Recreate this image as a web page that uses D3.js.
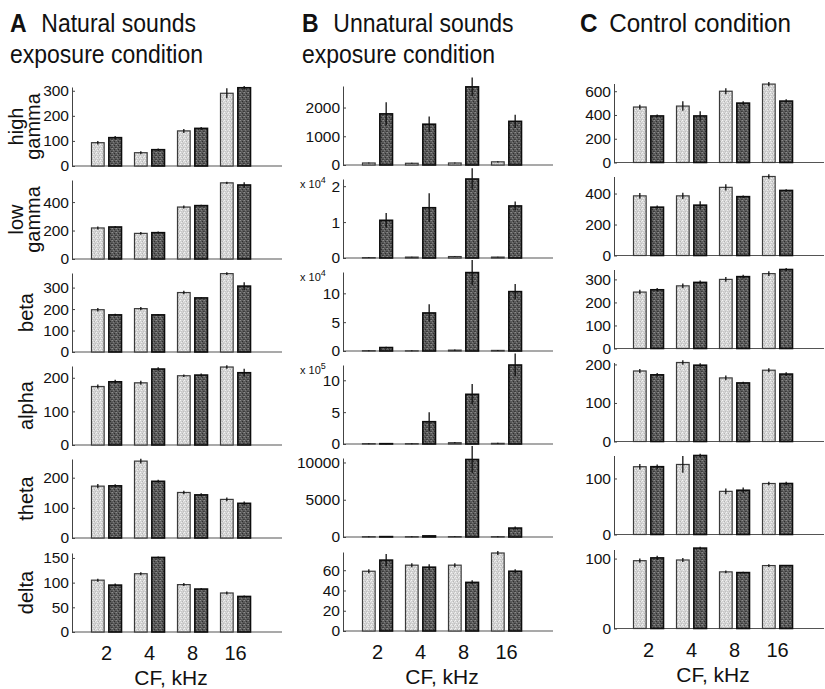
<!DOCTYPE html>
<html><head><meta charset="utf-8">
<script src="https://cdn.jsdelivr.net/npm/d3@7"></script>
<style>
body{margin:0;background:#fff}
svg{display:block}
text{font-family:"Liberation Sans",Arial,Helvetica,sans-serif;fill:#111}
</style></head><body>
<svg id="fig" width="825" height="689"></svg>
<script>
// Characteristic frequencies (kHz) and frequency bands
const frequencies = ["2", "4", "8", "16"];
const bandNames = ["high gamma", "low gamma", "beta", "alpha", "theta", "delta"];
const seriesKeys = ["light", "dark"];

// A: natural sounds exposure condition (rows = bands, columns = CF)
const natLight    = [[93, 53, 140, 290], [218, 180, 365, 535], [197, 202, 277, 365], [174, 185, 206, 232], [172, 255, 151, 128], [105, 118, 96, 79]];
const natDark     = [[113, 65, 150, 312], [225, 185, 375, 520], [173, 173, 252, 307], [188, 226, 208, 215], [173, 188, 143, 115], [95, 151, 87, 72]];
const natLightErr = [[7, 6, 8, 20], [10, 10, 10, 8], [8, 8, 8, 6], [6, 6, 4, 5], [7, 8, 6, 6], [3, 3, 3, 3]];
const natDarkErr  = [[7, 5, 6, 7], [6, 8, 6, 20], [5, 4, 4, 18], [6, 5, 5, 12], [5, 5, 5, 6], [3, 2, 2, 2]];
const natTop      = [315, 555, 368, 235, 262, 160];
const natTicks    = [[0, 100, 200, 300], [0, 200, 400], [0, 100, 200, 300], [0, 100, 200], [0, 100, 200], [0, 50, 100, 150]];

// B: unnatural sounds exposure condition
const unnLight    = [[70, 60, 70, 110], [100, 250, 400, 250], [500, 300, 1500, 1000], [5000, 5000, 20000, 10000], [40, 40, 50, 40], [59, 65, 65, 77]];
const unnDark     = [[1780, 1420, 2720, 1520], [10500, 14000, 22000, 14500], [6000, 66000, 136000, 103000], [5000, 350000, 780000, 1240000], [50, 150, 10400, 1200], [70, 63, 48, 59]];
const unnLightErr = [[20, 20, 20, 20], [100, 100, 100, 100], [1000, 800, 1000, 800], [8000, 8000, 10000, 10000], [60, 60, 60, 60], [2, 2, 2, 2]];
const unnDarkErr  = [[400, 270, 330, 230], [2000, 4000, 3000, 1200], [1500, 15000, 22000, 13000], [8000, 150000, 160000, 180000], [60, 60, 1800, 200], [6, 3, 2, 2]];
const unnTop      = [2750, 22000, 137000, 1240000, 10600, 78];
const unnTicks    = [[0, 1000, 2000], [0, 10000, 20000], [0, 50000, 100000], [0, 500000, 1000000], [0, 5000, 10000], [0, 20, 40, 60]];
const unnExponent = [0, 4, 4, 5, 0, 0];

// C: control condition
const ctlLight    = [[467, 475, 600, 660], [385, 385, 440, 510], [245, 272, 300, 325], [183, 205, 165, 185], [121, 125, 77, 91], [97, 98, 81, 90]];
const ctlDark     = [[392, 392, 500, 517], [312, 325, 380, 420], [255, 287, 312, 343], [173, 198, 152, 175], [121, 141, 79, 91], [101, 115, 80, 90]];
const ctlLightErr = [[20, 40, 25, 18], [18, 20, 20, 15], [10, 10, 10, 10], [5, 6, 6, 5], [5, 15, 5, 3], [3, 3, 2, 2]];
const ctlDarkErr  = [[12, 40, 15, 15], [10, 25, 8, 8], [8, 8, 8, 6], [5, 5, 3, 5], [4, 3, 5, 3], [3, 2, 1, 1]];
const ctlTop      = [665, 510, 343, 205, 141, 113];
const ctlTicks    = [[0, 200, 400, 600], [0, 200, 400], [0, 100, 200, 300], [0, 100, 200], [0, 100], [0, 100]];

const conditions = [
  {letter: "A", title: ["Natural sounds", "exposure condition"], light: natLight, dark: natDark, lightErr: natLightErr, darkErr: natDarkErr, top: natTop, ticks: natTicks, exponent: [0, 0, 0, 0, 0, 0]},
  {letter: "B", title: ["Unnatural sounds", "exposure condition"], light: unnLight, dark: unnDark, lightErr: unnLightErr, darkErr: unnDarkErr, top: unnTop, ticks: unnTicks, exponent: unnExponent},
  {letter: "C", title: ["Control condition"], light: ctlLight, dark: ctlDark, lightErr: ctlLightErr, darkErr: ctlDarkErr, top: ctlTop, ticks: ctlTicks, exponent: [0, 0, 0, 0, 0, 0]}
];

// Layout
const colX = [72, 343, 614];
const colShift = [1, 0, -2.5];
const titleX = [10, 302, 580];
const titleScale = [0.92, 0.92, 0.97];
const rowBase = [165, 258, 351, 444, 537, 631];
const panelH = 79;
const axisLen = 210;

const svg = d3.select("#fig");
const defs = svg.append("defs");

// Halftone-like stipple fills for the two bar shades
function stipple(id, base, dots) {
  const p = defs.append("pattern").attr("id", id)
    .attr("patternUnits", "userSpaceOnUse").attr("width", 4).attr("height", 4);
  p.append("rect").attr("width", 4).attr("height", 4).attr("fill", base);
  dots.forEach(([x, y, c]) => p.append("rect").attr("x", x).attr("y", y)
    .attr("width", 1).attr("height", 1).attr("fill", c));
}
stipple("stLight", "#d4d4d4", [[0, 0, "#f4f4f4"], [2, 1, "#b4b4b4"], [1, 2, "#eeeeee"], [3, 3, "#bfbfbf"], [3, 1, "#e9e9e9"], [1, 3, "#c8c8c8"]]);
stipple("stDark", "#5a5a5a", [[0, 0, "#8c8c8c"], [2, 1, "#2e2e2e"], [1, 2, "#7c7c7c"], [3, 3, "#383838"], [3, 0, "#727272"], [0, 3, "#444444"]]);

const fillFor = {light: "url(#stLight)", dark: "url(#stDark)"};
const strokeFor = {light: "#3a3a3a", dark: "#0d0d0d"};
const strokeW = {light: 1.2, dark: 1.6};

const x = d3.scaleBand().domain(frequencies).range([13, 185]);
const xSub = d3.scaleBand().domain(seriesKeys).range([-15, 15]).paddingInner(0.27);

conditions.forEach((cond, c) => {
  const x0 = colX[c];

  // Panel heading
  const head = svg.append("g").attr("transform", `translate(${titleX[c]},0) scale(${titleScale[c]},1)`);
  const t1 = head.append("text").attr("y", 32).attr("font-size", 25);
  t1.append("tspan").attr("font-weight", "bold").text(cond.letter);
  t1.append("tspan").attr("dx", c === 2 ? 12 : 16).text(cond.title[0]);
  if (cond.title[1]) head.append("text").attr("y", 63).attr("font-size", 25).text(cond.title[1]);

  bandNames.forEach((band, r) => {
    const base = rowBase[r] + colShift[c];
    const y = d3.scaleLinear().domain([0, cond.top[r]]).range([base, base - panelH]);
    const g = svg.append("g").attr("transform", `translate(${x0},0)`);

    // baseline
    g.append("line").attr("x1", 0).attr("x2", axisLen).attr("y1", base).attr("y2", base)
      .attr("stroke", "#555").attr("stroke-width", 1.2);

    const div = Math.pow(10, cond.exponent[r]);
    const axis = d3.axisLeft(y).tickValues(cond.ticks[r]).tickSizeInner(-3).tickSizeOuter(0)
      .tickPadding(3).tickFormat(v => d3.format("d")(v / div));
    const ag = g.append("g").call(axis);
    ag.attr("font-family", null).attr("font-size", null);
    ag.selectAll("text").attr("font-size", 15.5).attr("fill", "#111");
    ag.select(".domain").attr("stroke", "#444").attr("stroke-width", 1);
    ag.selectAll(".tick line").attr("stroke", "#444");

    if (cond.exponent[r]) {
      const lab = g.append("text").attr("x", -43).attr("y", base - panelH + 9).attr("font-size", 11);
      lab.append("tspan").text("x 10");
      lab.append("tspan").attr("dy", -5).attr("font-size", 9).text(cond.exponent[r]);
    }

    const rows = frequencies.map((f, i) => ({f, i}));
    seriesKeys.forEach(key => {
      const vals = cond[key][r];
      const errs = cond[key + "Err"][r];
      g.selectAll(null).data(rows).join("rect")
        .attr("x", d => x(d.f) + x.bandwidth() / 2 + xSub(key))
        .attr("width", xSub.bandwidth())
        .attr("y", d => y(vals[d.i]))
        .attr("height", d => base - y(vals[d.i]))
        .attr("fill", fillFor[key])
        .attr("stroke", strokeFor[key])
        .attr("stroke-width", strokeW[key]);
      g.selectAll(null).data(rows).join("line")
        .attr("x1", d => x(d.f) + x.bandwidth() / 2 + xSub(key) + xSub.bandwidth() / 2)
        .attr("x2", d => x(d.f) + x.bandwidth() / 2 + xSub(key) + xSub.bandwidth() / 2)
        .attr("y1", d => y(vals[d.i] - errs[d.i]))
        .attr("y2", d => y(vals[d.i] + errs[d.i]))
        .attr("stroke", "#111").attr("stroke-width", 1.3);
    });

    // band label on the left column
    if (c === 0) {
      const words = band.split(" ");
      const cy = base - panelH / 2;
      const lg = svg.append("g").attr("transform", `translate(0,${cy}) rotate(-90)`);
      if (words.length === 2) {
        lg.append("text").attr("x", 0).attr("y", 23).attr("text-anchor", "middle").attr("font-size", 20).text(words[0]);
        lg.append("text").attr("x", 0).attr("y", 40).attr("text-anchor", "middle").attr("font-size", 20).text(words[1]);
      } else {
        lg.append("text").attr("x", 0).attr("y", 33).attr("text-anchor", "middle").attr("font-size", 20).text(band);
      }
    }

    // frequency axis labels under the bottom row
    if (r === bandNames.length - 1) {
      const xa = g.append("g").attr("transform", `translate(0,${base})`)
        .call(d3.axisBottom(x).tickSize(0).tickPadding(14));
      xa.select(".domain").remove();
      xa.attr("font-family", null).attr("font-size", null);
      xa.selectAll("text").attr("font-size", 20).attr("fill", "#111");
      g.append("text").attr("x", 99).attr("y", base + 53).attr("text-anchor", "middle")
        .attr("font-size", 21).text("CF, kHz");
    }
  });
});
</script>
</body></html>
